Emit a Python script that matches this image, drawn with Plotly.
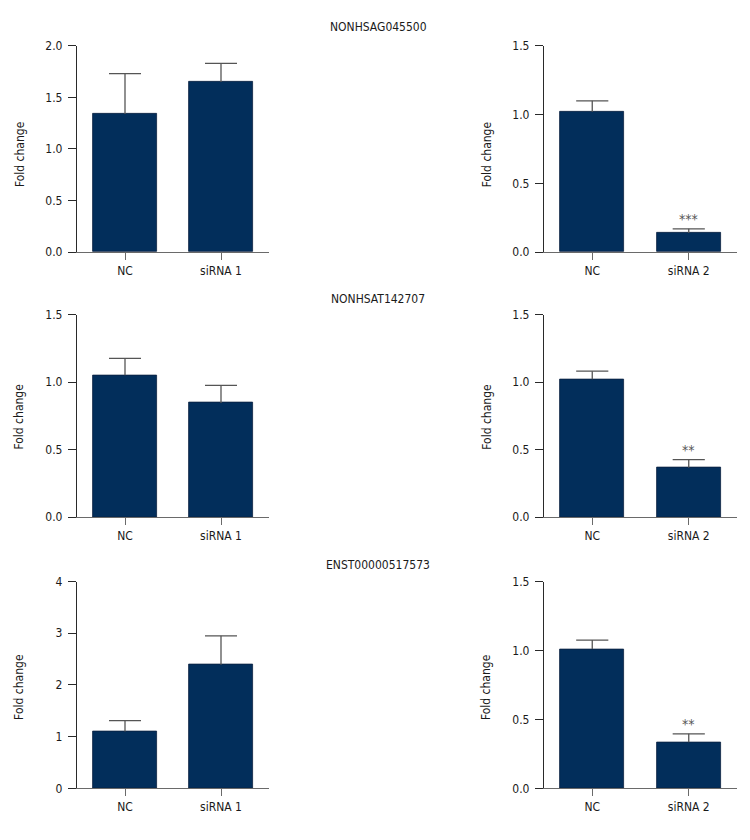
import plotly.graph_objects as go

# ---------------- data ----------------
row_titles = ["NONHSAG045500", "NONHSAT142707", "ENST00000517573"]
cats_left = ["NC", "siRNA 1"]
cats_right = ["NC", "siRNA 2"]

r1_left_mean = [1.34, 1.65]
r1_left_err = [0.39, 0.18]
r1_right_mean = [1.02, 0.14]
r1_right_err = [0.08, 0.03]
r1_right_sig = "***"

r2_left_mean = [1.05, 0.845]
r2_left_err = [0.125, 0.13]
r2_right_mean = [1.02, 0.365]
r2_right_err = [0.06, 0.06]
r2_right_sig = "**"

r3_left_mean = [1.10, 2.39]
r3_left_err = [0.21, 0.56]
r3_right_mean = [1.01, 0.335]
r3_right_err = [0.065, 0.06]
r3_right_sig = "**"

y_top = [2.0, 1.5, 1.5, 1.5, 4.0, 1.5]
y_dtick = [0.5, 0.5, 0.5, 0.5, 1.0, 0.5]
y_fmt = [".1f", ".1f", ".1f", ".1f", "d", ".1f"]
y_label = "Fold change"

# ---------------- style ----------------
PAGE_W, PAGE_H = 750, 840
BODY_MARGIN = 8
W, H = PAGE_W - 2 * BODY_MARGIN, PAGE_H - 2 * BODY_MARGIN
FONT = "Liberation Sans Narrow, Arial Narrow, DejaVu Sans Condensed, sans-serif"
FS = 12
BAR = "#022e5b"
BAR_LINE = "#0b2140"
ERR = "#555555"
YLINE = "#2a2a2a"
XLINE = "#6a6a6a"
TXT = "#1a1a1a"

# positions in page pixels
col_px = [(77, 269), (544, 737)]
row_px = [(39.3, 249.3), (312.7, 518.7), (584.3, 794.7)]
ylab_x = [19.5, 486.7]
ylab_y = [150, 417, 692]
title_y = [20, 296.7, 568]
title_x = 378


def fx(p):
    return (p - BODY_MARGIN) / W


def fy(p):
    return 1 - (p - BODY_MARGIN) / H


means = [r1_left_mean, r1_right_mean, r2_left_mean, r2_right_mean, r3_left_mean, r3_right_mean]
errs = [r1_left_err, r1_right_err, r2_left_err, r2_right_err, r3_left_err, r3_right_err]
sigs = [None, r1_right_sig, None, r2_right_sig, None, r3_right_sig]
cats = [cats_left, cats_right] * 3

fig = go.Figure()
annotations = []
layout = {}
cap_half = 1 / 6

for k in range(6):
    r, c = divmod(k, 2)
    xn = "x" if k == 0 else f"x{k + 1}"
    yn = "y" if k == 0 else f"y{k + 1}"
    xpos = list(range(len(cats[k])))
    fig.add_trace(go.Bar(
        x=xpos, y=means[k], width=2 / 3,
        marker=dict(color=BAR, line=dict(color=BAR_LINE, width=0.8)),
        xaxis=xn, yaxis=yn, showlegend=False, hoverinfo="skip"))
    ex, ey = [], []
    for i, (m, e) in enumerate(zip(means[k], errs[k])):
        ex += [i, i, None, i - cap_half, i + cap_half, None]
        ey += [m, m + e, None, m + e, m + e, None]
    fig.add_trace(go.Scatter(
        x=ex, y=ey, mode="lines", line=dict(color=ERR, width=1.3),
        xaxis=xn, yaxis=yn, showlegend=False, hoverinfo="skip"))
    if sigs[k]:
        i = len(means[k]) - 1
        annotations.append(dict(
            x=i, y=means[k][i] + errs[k][i], xref=xn, yref=yn,
            text=sigs[k], showarrow=False, yanchor="bottom", yshift=0,
            font=dict(family=FONT, size=14, color="#555555")))
    x0, x1 = col_px[c]
    yt, yb = row_px[r]
    layout["xaxis" if k == 0 else f"xaxis{k + 1}"] = dict(
        domain=[fx(x0), fx(x1)], range=[-0.5, len(cats[k]) - 0.5],
        tickvals=xpos, ticktext=cats[k], anchor=yn,
        showline=True, linecolor=XLINE, linewidth=1.3,
        ticks="outside", ticklen=7, tickcolor=XLINE, tickwidth=1.3,
        showgrid=False, zeroline=False, fixedrange=True,
        tickfont=dict(family=FONT, size=FS, color=TXT))
    layout["yaxis" if k == 0 else f"yaxis{k + 1}"] = dict(
        domain=[fy(yb), fy(yt)], range=[0, y_top[k]], dtick=y_dtick[k],
        tick0=0, tickformat=y_fmt[k], anchor=xn,
        showline=True, linecolor=YLINE, linewidth=1.3,
        ticks="outside", ticklen=8, tickcolor=YLINE, tickwidth=1.3,
        showgrid=False, zeroline=False, fixedrange=True,
        ticklabelstandoff=3,
        tickfont=dict(family=FONT, size=FS, color=TXT))
    annotations.append(dict(
        x=fx(ylab_x[c]), y=fy(ylab_y[r]), xref="paper", yref="paper",
        text=y_label, textangle=-90, showarrow=False,
        xanchor="center", yanchor="middle",
        font=dict(family=FONT, size=FS, color=TXT)))

for r in range(3):
    annotations.append(dict(
        x=fx(title_x), y=fy(title_y[r]), xref="paper", yref="paper",
        text=row_titles[r], showarrow=False, xanchor="center", yanchor="middle",
        font=dict(family=FONT, size=FS, color=TXT)))

fig.update_layout(
    width=W, height=H, margin=dict(l=0, r=0, t=0, b=0),
    paper_bgcolor="white", plot_bgcolor="white",
    annotations=annotations, bargap=0, **layout)

fig.write_html("out.html")
